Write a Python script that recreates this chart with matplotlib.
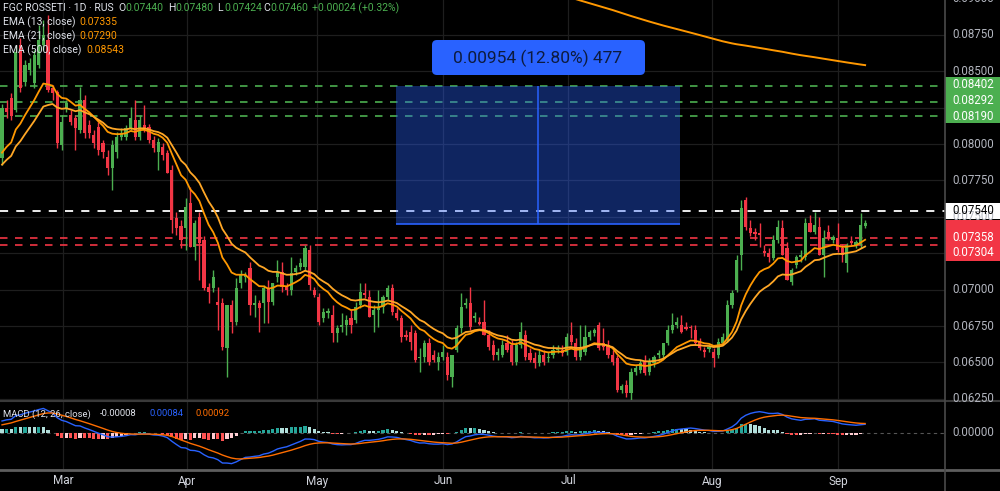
import numpy as np
import matplotlib.pyplot as plt
from matplotlib.patches import Rectangle, FancyBboxPatch
from matplotlib.lines import Line2D
from matplotlib.transforms import blended_transform_factory

plt.rcParams['font.family'] = ['Roboto', 'DejaVu Sans']

# daily candles, FGC Rosseti
opens = [0.07905, 0.08248, 0.08317, 0.08234, 0.08681, 0.08427, 0.08509, 0.08420, 0.08543, 0.08681,
         0.08715, 0.08385, 0.08358, 0.07994, 0.08248, 0.08200, 0.08179, 0.08097, 0.08303, 0.08131,
         0.08063, 0.08118, 0.08008, 0.07911, 0.07836, 0.07946, 0.08049, 0.08049, 0.08111, 0.08166,
         0.08049, 0.08131, 0.08118, 0.08028, 0.07946, 0.07980, 0.07939, 0.07822, 0.07492, 0.07437,
         0.07424, 0.07595, 0.07293, 0.07499, 0.07341, 0.07018, 0.07012, 0.06915, 0.06908, 0.06599,
         0.06895, 0.06778, 0.07046, 0.07087, 0.07149, 0.06895, 0.06908, 0.06908, 0.07012, 0.06915,
         0.07087, 0.07121, 0.07018, 0.06998, 0.07121, 0.07156, 0.07156, 0.07273, 0.06998, 0.06950,
         0.06806, 0.06840, 0.06826, 0.06702, 0.06744, 0.06757, 0.06805, 0.06792, 0.06895, 0.06977,
         0.06950, 0.06826, 0.06860, 0.06881, 0.06950, 0.07012, 0.06840, 0.06805, 0.06689, 0.06709,
         0.06702, 0.06530, 0.06537, 0.06634, 0.06551, 0.06503, 0.06537, 0.06537, 0.06400, 0.06586,
         0.06737, 0.06895, 0.06908, 0.06805, 0.06778, 0.06778, 0.06689, 0.06620, 0.06551, 0.06554,
         0.06634, 0.06620, 0.06503, 0.06620, 0.06689, 0.06565, 0.06531, 0.06496, 0.06551, 0.06531,
         0.06551, 0.06586, 0.06586, 0.06572, 0.06689, 0.06634, 0.06537, 0.06572, 0.06675, 0.06702,
         0.06757, 0.06634, 0.06620, 0.06551, 0.06531, 0.06311, 0.06345, 0.06290, 0.06434, 0.06448,
         0.06503, 0.06434, 0.06496, 0.06551, 0.06551, 0.06634, 0.06723, 0.06757, 0.06757, 0.06744,
         0.06744, 0.06723, 0.06640, 0.06586, 0.06592, 0.06572, 0.06551, 0.06634, 0.06654, 0.06895,
         0.06998, 0.07238, 0.07616, 0.07424, 0.07396, 0.07389, 0.07266, 0.07252, 0.07217, 0.07341,
         0.07424, 0.07286, 0.07053, 0.07170, 0.07224, 0.07224, 0.07458, 0.07396, 0.07430, 0.07238,
         0.07396, 0.07341, 0.07355, 0.07286, 0.07183, 0.07334, 0.07307, 0.07307, 0.07440]
highs = [0.08276, 0.08303, 0.08351, 0.08681, 0.08729, 0.08578, 0.08592, 0.08647, 0.08818, 0.08853,
         0.08887, 0.08406, 0.08372, 0.08200, 0.08303, 0.08234, 0.08200, 0.08392, 0.08337, 0.08166,
         0.08097, 0.08152, 0.08028, 0.07960, 0.08028, 0.08083, 0.08111, 0.08131, 0.08255, 0.08303,
         0.08200, 0.08269, 0.08138, 0.08056, 0.08042, 0.08008, 0.07960, 0.07857, 0.07534, 0.07479,
         0.07630, 0.07705, 0.07479, 0.07534, 0.07369, 0.07046, 0.07135, 0.07018, 0.06943, 0.06895,
         0.06929, 0.07080, 0.07135, 0.07121, 0.07190, 0.06964, 0.06929, 0.07032, 0.07066, 0.07046,
         0.07204, 0.07190, 0.07046, 0.07224, 0.07169, 0.07217, 0.07307, 0.07307, 0.07018, 0.06977,
         0.06874, 0.06874, 0.06895, 0.06757, 0.06840, 0.06826, 0.06860, 0.06915, 0.07046, 0.07046,
         0.06998, 0.06895, 0.06998, 0.06964, 0.07032, 0.07039, 0.06874, 0.06826, 0.06723, 0.06757,
         0.06723, 0.06599, 0.06654, 0.06668, 0.06586, 0.06572, 0.06620, 0.06572, 0.06551, 0.06757,
         0.06977, 0.06943, 0.07018, 0.06847, 0.06812, 0.06929, 0.06723, 0.06654, 0.06599, 0.06654,
         0.06689, 0.06654, 0.06640, 0.06778, 0.06723, 0.06599, 0.06572, 0.06586, 0.06586, 0.06572,
         0.06620, 0.06620, 0.06620, 0.06702, 0.06778, 0.06668, 0.06757, 0.06757, 0.06723, 0.06737,
         0.06778, 0.06737, 0.06654, 0.06586, 0.06551, 0.06352, 0.06380, 0.06462, 0.06482, 0.06517,
         0.06551, 0.06530, 0.06551, 0.06586, 0.06620, 0.06757, 0.06840, 0.06812, 0.06826, 0.06778,
         0.06757, 0.06757, 0.06668, 0.06606, 0.06620, 0.06599, 0.06668, 0.06702, 0.06929, 0.06998,
         0.07238, 0.07616, 0.07637, 0.07479, 0.07424, 0.07458, 0.07307, 0.07286, 0.07376, 0.07479,
         0.07479, 0.07327, 0.07149, 0.07238, 0.07273, 0.07492, 0.07513, 0.07534, 0.07499, 0.07410,
         0.07444, 0.07376, 0.07458, 0.07314, 0.07321, 0.07369, 0.07341, 0.07527, 0.07480]
lows = [0.07857, 0.08179, 0.08166, 0.08221, 0.08358, 0.08399, 0.08475, 0.08385, 0.08523, 0.08647,
        0.08358, 0.08303, 0.07973, 0.07960, 0.08221, 0.08131, 0.07960, 0.08076, 0.08042, 0.08042,
        0.07973, 0.07925, 0.07905, 0.07788, 0.07685, 0.07905, 0.08028, 0.08028, 0.08097, 0.08028,
        0.08028, 0.08083, 0.08008, 0.07946, 0.07822, 0.07891, 0.07801, 0.07389, 0.07376, 0.07286,
        0.07272, 0.07293, 0.07204, 0.07066, 0.06998, 0.06908, 0.06984, 0.06723, 0.06586, 0.06400,
        0.06702, 0.06757, 0.07012, 0.07053, 0.06826, 0.06812, 0.06709, 0.06771, 0.06771, 0.06895,
        0.07053, 0.06984, 0.06964, 0.06964, 0.07101, 0.07135, 0.07135, 0.06998, 0.06950, 0.06757,
        0.06778, 0.06806, 0.06640, 0.06640, 0.06709, 0.06689, 0.06702, 0.06771, 0.06874, 0.06943,
        0.06812, 0.06709, 0.06744, 0.06840, 0.06929, 0.06826, 0.06792, 0.06640, 0.06654, 0.06586,
        0.06503, 0.06434, 0.06503, 0.06482, 0.06503, 0.06448, 0.06517, 0.06380, 0.06331, 0.06572,
        0.06702, 0.06874, 0.06723, 0.06778, 0.06757, 0.06689, 0.06586, 0.06517, 0.06517, 0.06537,
        0.06572, 0.06482, 0.06482, 0.06599, 0.06517, 0.06503, 0.06462, 0.06476, 0.06482, 0.06503,
        0.06531, 0.06565, 0.06544, 0.06551, 0.06620, 0.06517, 0.06517, 0.06551, 0.06654, 0.06682,
        0.06586, 0.06586, 0.06531, 0.06482, 0.06297, 0.06290, 0.06263, 0.06242, 0.06414, 0.06427,
        0.06414, 0.06414, 0.06469, 0.06531, 0.06531, 0.06620, 0.06702, 0.06737, 0.06702, 0.06723,
        0.06668, 0.06620, 0.06586, 0.06537, 0.06572, 0.06469, 0.06531, 0.06620, 0.06640, 0.06874,
        0.06984, 0.07135, 0.07410, 0.07369, 0.07341, 0.07293, 0.07231, 0.07190, 0.07204, 0.07321,
        0.07238, 0.07067, 0.07032, 0.07149, 0.07190, 0.07204, 0.07396, 0.07382, 0.07238, 0.07087,
        0.07341, 0.07321, 0.07259, 0.07190, 0.07121, 0.07307, 0.07286, 0.07286, 0.07424]
closes = [0.08248, 0.08221, 0.08193, 0.08633, 0.08385, 0.08543, 0.08557, 0.08612, 0.08715, 0.08750,
          0.08372, 0.08351, 0.08008, 0.08152, 0.08282, 0.08152, 0.08111, 0.08303, 0.08076, 0.08076,
          0.08008, 0.07960, 0.07946, 0.07836, 0.07994, 0.08049, 0.08076, 0.08111, 0.08179, 0.08049,
          0.08166, 0.08111, 0.08028, 0.07973, 0.08014, 0.07925, 0.07801, 0.07479, 0.07424, 0.07341,
          0.07568, 0.07293, 0.07458, 0.07321, 0.07012, 0.06984, 0.07087, 0.06895, 0.06606, 0.06895,
          0.06778, 0.07012, 0.07101, 0.07101, 0.06895, 0.06908, 0.06874, 0.07012, 0.06915, 0.07046,
          0.07121, 0.07018, 0.06998, 0.07115, 0.07149, 0.07183, 0.07286, 0.07032, 0.06964, 0.06778,
          0.06847, 0.06853, 0.06702, 0.06737, 0.06757, 0.06792, 0.06757, 0.06881, 0.06984, 0.06964,
          0.06812, 0.06860, 0.06881, 0.06950, 0.07012, 0.06847, 0.06805, 0.06675, 0.06675, 0.06640,
          0.06517, 0.06537, 0.06634, 0.06503, 0.06517, 0.06537, 0.06572, 0.06414, 0.06551, 0.06737,
          0.06881, 0.06908, 0.06744, 0.06819, 0.06764, 0.06689, 0.06606, 0.06551, 0.06572, 0.06620,
          0.06586, 0.06503, 0.06620, 0.06709, 0.06537, 0.06517, 0.06496, 0.06551, 0.06503, 0.06537,
          0.06586, 0.06592, 0.06565, 0.06675, 0.06640, 0.06537, 0.06606, 0.06675, 0.06709, 0.06723,
          0.06599, 0.06606, 0.06551, 0.06503, 0.06311, 0.06338, 0.06290, 0.06434, 0.06462, 0.06496,
          0.06427, 0.06503, 0.06537, 0.06565, 0.06634, 0.06723, 0.06757, 0.06778, 0.06709, 0.06730,
          0.06737, 0.06634, 0.06599, 0.06572, 0.06606, 0.06531, 0.06640, 0.06675, 0.06895, 0.06977,
          0.07204, 0.07561, 0.07430, 0.07389, 0.07382, 0.07376, 0.07252, 0.07224, 0.07341, 0.07430,
          0.07238, 0.07067, 0.07135, 0.07224, 0.07238, 0.07458, 0.07396, 0.07444, 0.07238, 0.07355,
          0.07355, 0.07362, 0.07273, 0.07238, 0.07307, 0.07321, 0.07327, 0.07444, 0.07460]

months = ['Mar', 'Apr', 'May', 'Jun', 'Jul', 'Aug', 'Sep']
month_bars = [13.3, 40.3, 68.6, 96.1, 123.3, 154.7, 182.1]

price_ticks = [0.0625, 0.0650, 0.0675, 0.0700, 0.0725, 0.0750, 0.0775, 0.0800, 0.0825, 0.0850, 0.0875, 0.0900]
# 0.0825 and 0.0725 sit under the coloured level labels and are not shown
price_labels = [0.0625, 0.0650, 0.0675, 0.0700, 0.0750, 0.0775, 0.0800, 0.0850, 0.0875, 0.0900]
green_levels = [0.08402, 0.08292, 0.08190]
white_level = 0.07540
red_levels = [0.07358, 0.07304]

measure_low, measure_high = 0.07448, 0.08402
measure_from, measure_to = 85.8, 147.7
measure_label = '0.00954 (12.80%) 477'

# legend readouts as printed on the chart
ohlc_text = ['0.07440', '0.07480', '0.07424', '0.07460']
change_text = '+0.00024 (+0.32%)'
ema_text = ['0.07335', '0.07290', '0.08543']
macd_text = ['-0.00008', '0.00084', '0.00092']

# starting values of the indicators at the first visible bar
ema13_start, ema21_start, ema500_start = 0.0789, 0.0782, 0.1021
ema12_start, ema26_start, signal_start = 0.0791, 0.0781, 0.0007


def ema(values, span, start):
    a = 2.0 / (span + 1)
    out = []
    e = start
    for v in values:
        e = e + a * (v - e)
        out.append(e)
    return np.array(out)


o = np.array(opens); h = np.array(highs); l = np.array(lows); c = np.array(closes)
x = np.arange(len(c))
ema13 = ema(c, 13, ema13_start)
ema21 = ema(c, 21, ema21_start)
ema500 = ema(c, 500, ema500_start)
macd = ema(c, 12, ema12_start) - ema(c, 26, ema26_start)
signal = ema(macd, 9, signal_start)
hist = macd - signal

GREEN = '#4CAF50'
RED = '#F23645'
GRID = '#1e1e1e'
TXT = '#B2B5BE'

fig = plt.figure(figsize=(10, 4.91), dpi=100, facecolor='black')
ax = fig.add_axes([0, 1 - 401 / 491, 0.945, 401 / 491], facecolor='black')
axm = fig.add_axes([0, 1 - 469 / 491, 0.945, 67 / 491], facecolor='black')
for a in (ax, axm):
    a.set_xlim(-0.44, 205.4)
    for s in a.spines.values():
        s.set_visible(False)
    a.set_xticks([])
    a.set_yticks([])
    for m in month_bars:
        a.axvline(m, color=GRID, lw=0.9, zorder=0)
ax.set_ylim(0.06235, 0.0899)
axm.set_ylim(-0.00375, 0.00315)
for p in price_ticks:
    ax.axhline(p, color=GRID, lw=0.9, zorder=0)

# horizontal levels
for p in green_levels:
    ax.axhline(p, color=GREEN, lw=1.2, ls=(0, (4.5, 4.5)), zorder=2)
ax.axhline(white_level, color='white', lw=1.3, ls=(0, (4.5, 4.5)), zorder=2)
for p in red_levels:
    ax.axhline(p, color=RED, lw=1.2, ls=(0, (4.5, 4.5)), zorder=2)

# candles
up = c >= o
col = np.where(up, GREEN, RED)
ax.vlines(x, l, h, colors=col, lw=1, zorder=3)
body = np.maximum(np.abs(c - o), 0.00004)
ax.bar(x, body, bottom=np.minimum(o, c), width=0.7, color=col, zorder=3)

# moving averages
ax.plot(x, ema13, color='#FF9800', lw=1.3, zorder=4)
ax.plot(x, ema21, color='#FFA726', lw=1.3, zorder=4)
ax.plot(x, ema500, color='#FF9800', lw=1.4, zorder=4)

# measuring tool
ax.add_patch(Rectangle((measure_from, measure_low), measure_to - measure_from, measure_high - measure_low,
                       facecolor='#2962FF', alpha=0.38, edgecolor='none', zorder=5))
ax.hlines(measure_low, measure_from, measure_to, color='#2962FF', lw=1.2, zorder=6)
mid = (measure_from + measure_to) / 2
ax.vlines(mid, measure_low, measure_high, color='#2962FF', lw=1.1, zorder=6)
fig.patches.append(FancyBboxPatch((432 / 1000, 1 - 75 / 491), 213 / 1000, 35 / 491,
                                  boxstyle='round,pad=0,rounding_size=0.005', mutation_aspect=2.0,
                                  facecolor='#2962FF', edgecolor='none', transform=fig.transFigure))
fig.text(538 / 1000, 1 - 58 / 491, measure_label, color='#0d1b3e', fontsize=12.5, ha='center', va='center')

# MACD panel
hcol = []
for i, v in enumerate(hist):
    prev = hist[i - 1] if i > 0 else v
    if v >= 0:
        hcol.append('#26A69A' if v > prev else '#B2DFDB')
    else:
        hcol.append('#FF5252' if v < prev else '#FFCDD2')
axm.bar(x, hist, width=0.7, color=hcol, zorder=2)
axm.axhline(0, color='#555555', lw=0.8, ls=(0, (3, 3)), zorder=1)
axm.plot(x, macd, color='#2962FF', lw=1.0, zorder=3)
axm.plot(x, signal, color='#FF6D00', lw=1.0, zorder=3)

# frame lines
fig.add_artist(Line2D([0, 1], [1 - 401 / 491] * 2, color='#3a3a3a', lw=1.5))
fig.add_artist(Line2D([0, 1], [1 - 470 / 491] * 2, color='#5e5e5e', lw=2))
fig.add_artist(Line2D([0.945, 0.945], [0, 1], color='#4a4a4a', lw=1.2))

# right price scale
tr = blended_transform_factory(fig.transFigure, ax.transData)
for p in price_labels:
    fig.text(0.952, p, f'{p:.5f}', transform=tr, color=TXT, fontsize=8.3, va='center')
trm = blended_transform_factory(fig.transFigure, axm.transData)
fig.text(0.952, 0, '0.00000', transform=trm, color=TXT, fontsize=8.3, va='center')

fig.patches.append(Rectangle((0.945, 1 - 123 / 491), 0.055, 46 / 491, facecolor=GREEN, transform=fig.transFigure))
fig.patches.append(Rectangle((0.945, 1 - 219 / 491), 0.055, 16 / 491, facecolor='white', transform=fig.transFigure))
fig.patches.append(Rectangle((0.945, 1 - 261 / 491), 0.055, 41 / 491, facecolor=RED, transform=fig.transFigure))
for p, ypx in zip(green_levels, [85, 100, 116]):
    fig.text(0.952, 1 - ypx / 491, f'{p:.5f}', color='white', fontsize=8.3, va='center')
fig.text(0.952, 1 - 211 / 491, f'{white_level:.5f}', color='black', fontsize=8.3, va='center')
for p, ypx in zip(red_levels, [238, 253]):
    fig.text(0.952, 1 - ypx / 491, f'{p:.5f}', color='white', fontsize=8.3, va='center')

# month labels
trx = blended_transform_factory(axm.transData, fig.transFigure)
for m, lab in zip(month_bars, months):
    fig.text(m, 1 - 481 / 491, lab, transform=trx, color='#D1D4DC', fontsize=8.5, ha='center', va='center')


# legends
def ftxt(px, py, s, color='#E0E3EB', size=7.5):
    fig.text(px / 1000, 1 - py / 491, s, color=color, fontsize=size, va='center')


ftxt(3, 8, 'FGC ROSSETI · 1D · RUS')
for px, letter, val in zip([118, 168, 217, 263], 'OHLC', ohlc_text):
    ftxt(px, 8, letter)
    ftxt(px + 7, 8, val, GREEN)
ftxt(312, 8, change_text, GREEN)
ftxt(3, 22, 'EMA (13, close)'); ftxt(79, 22, ema_text[0], '#FF9800')
ftxt(3, 36, 'EMA (21, close)'); ftxt(79, 36, ema_text[1], '#FF9800')
ftxt(3, 50, 'EMA (500, close)'); ftxt(86, 50, ema_text[2], '#FF9800')
ftxt(3, 414, 'MACD (12, 26, close)', size=6.8)
ftxt(100, 414, macd_text[0], size=6.8)
ftxt(150, 414, macd_text[1], '#2962FF', size=6.8)
ftxt(196, 414, macd_text[2], '#FF6D00', size=6.8)

fig.savefig('out.png', dpi=100, facecolor='black')
